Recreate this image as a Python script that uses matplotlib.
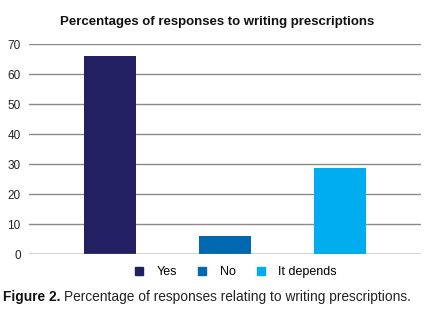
import matplotlib
matplotlib.use("Agg")
import matplotlib.pyplot as plt
from matplotlib.lines import Line2D

plt.rcParams['font.family'] = ['Liberation Sans', 'DejaVu Sans']

series = ["Yes", "No", "It depends"]
values = [66.0, 6.1, 28.8]
colors = ["#231F63", "#0068B1", "#00AEEF"]
yticks = [0, 10, 20, 30, 40, 50, 60, 70]
title = "Percentages of responses to writing prescriptions"
caption_bold = "Figure 2."
caption_rest = "Percentage of responses relating to writing prescriptions."

fig = plt.figure(figsize=(4.35, 3.14), dpi=100)
ax = fig.add_axes([29/435, 59.7/314, 392/435, 210/314])

x = list(range(len(series)))
for xi, v, c, s in zip(x, values, colors, series):
    ax.bar(xi, v, width=0.46, color=c, label=s, zorder=3)

ax.set_xlim(-0.705, 2.705)
ax.set_ylim(0, 70)
ax.set_yticks(yticks)
ax.set_yticklabels([str(t) for t in yticks], fontsize=8.5, color="#222222")
ax.set_xticks([])
ax.yaxis.grid(True, color="#8a8a8a", linewidth=1.0, zorder=0)
ax.tick_params(axis='y', length=0, pad=6)
for sp in ax.spines.values():
    sp.set_visible(False)
ax.axhline(0, color="#8a8a8a", linewidth=1.0, zorder=4)

fig.text(0.5, 1 - 22/314, title, ha='center', va='center', fontsize=9.5,
         fontweight='bold', color="#111111")

handles = [Line2D([], [], marker='s', linestyle='none', markersize=5.5,
                  markerfacecolor=c, markeredgecolor=c) for c in colors]
fig.legend(handles, series, loc='center', bbox_to_anchor=(0.54, 1 - 272/314),
           ncol=3, frameon=False, fontsize=9, handletextpad=0.9,
           columnspacing=1.5, handlelength=1.0)

t1 = fig.text(3/435, 1 - 297/314, caption_bold, ha='left', va='center',
              fontsize=9.9, fontweight='bold', color="#111111")
fig.canvas.draw()
bb = t1.get_window_extent(renderer=fig.canvas.get_renderer())
fig.text((bb.x1 + 4) / fig.bbox.width, 1 - 297/314, caption_rest, ha='left',
         va='center', fontsize=9.9, color="#222222")

fig.savefig("out.png", dpi=100)
